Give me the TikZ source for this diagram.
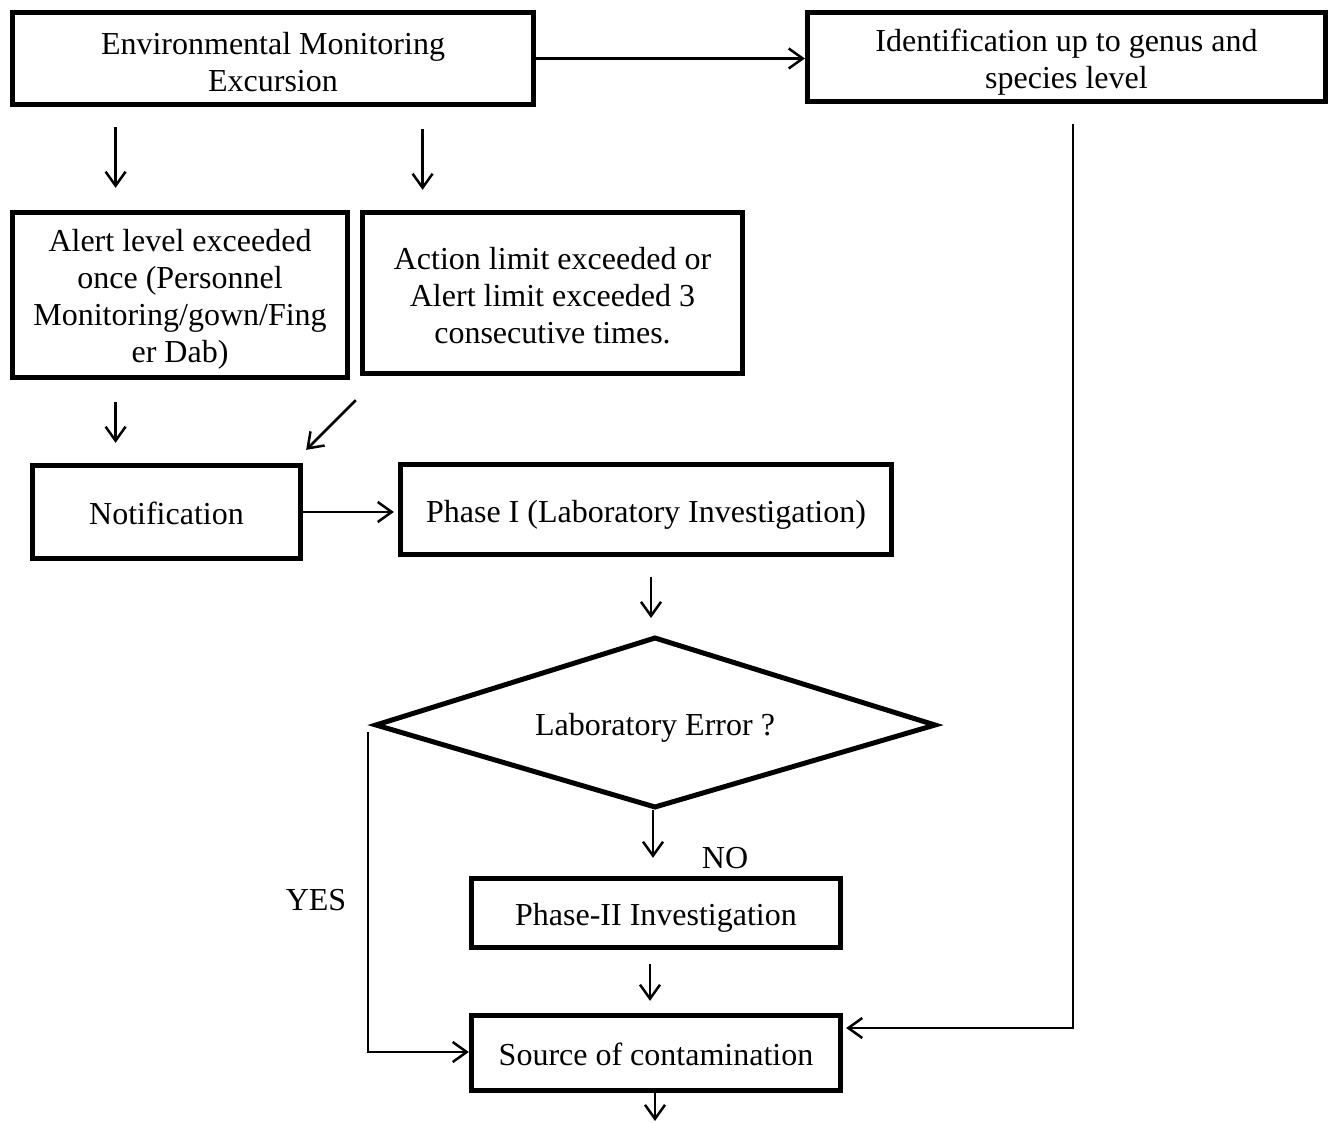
\documentclass[tikz,border=0pt]{standalone}
\usepackage{fontspec}
\setmainfont{Liberation Serif}
\usetikzlibrary{arrows.meta}
\begin{document}
\begin{tikzpicture}[x=1pt,y=-1pt,
  box/.style={draw, line width=4.8pt, inner sep=0pt},
  btext/.style={align=center, inner sep=0pt, font=\fontsize{32}{37}\selectfont, yshift=-#1},
  btext/.default=4pt,
  arr/.style={line width=2.5pt, -{Straight Barb[length=14pt,width=20pt]}},
  lbl/.style={font=\fontsize{32}{37}\selectfont, inner sep=0pt}]
\useasboundingbox (0,0) rectangle (1331,1123);
\node[box, minimum width=521.5pt, minimum height=92.5pt,
  label={[btext=3.5pt]center:Environmental Monitoring\\Excursion}] (eme) at (273,58.5) {};
\node[box, minimum width=518.5pt, minimum height=89.5pt,
  label={[btext=5pt]center:Identification up to genus and\\species level}] (ident) at (1066.5,57) {};
\node[box, minimum width=335.5pt, minimum height=165.5pt,
  label={[btext=4.5pt]center:Alert level exceeded\\once (Personnel\\Monitoring/gown/Fing\\er Dab)}] (alert) at (180,295) {};
\node[box, minimum width=380.5pt, minimum height=161.5pt,
  label={[btext=3pt]center:Action limit exceeded or\\Alert limit exceeded 3\\consecutive times.}] (action) at (552.5,293) {};
\node[box, minimum width=268.5pt, minimum height=93.5pt,
  label={[btext=1pt]center:Notification}] (notif) at (166.5,512) {};
\node[box, minimum width=491.5pt, minimum height=90.5pt,
  label={[btext=5pt]center:Phase I (Laboratory Investigation)}] (phase1) at (646,509.5) {};
% decision diamond
\coordinate (dt) at (655,638);
\coordinate (db) at (655,807);
\coordinate (dl) at (376,725);
\coordinate (dr) at (935,725);
\draw[line width=5pt] (dl) -- (dt) -- (dr) -- (db) -- cycle;
\node[lbl] (dec) at (655,728) {Laboratory Error ?};
\node[box, minimum width=369.5pt, minimum height=69.5pt,
  label={[btext=5pt]center:Phase-II Investigation}] (phase2) at (656,913) {};
\node[box, minimum width=369.5pt, minimum height=75.5pt,
  label={[btext=1.5pt]center:Source of contamination}] (source) at (656,1053) {};
\node[lbl] (no) at (725,858) {NO};
\node[lbl] (yes) at (316,900) {YES};
\coordinate (out) at (655,1121);

\draw[arr] (eme.east) -- (eme.east -| ident.west);
\draw[arr, shorten <=20pt, shorten >=22pt] ([xshift=105.75pt]eme.south west) -- ([xshift=105.75pt]alert.north west);
\draw[arr, shorten <=22pt, shorten >=20pt] ([xshift=412.75pt]eme.south west) -- ([xshift=62.75pt]action.north west);
\draw[arr, shorten <=22pt, shorten >=20pt] ([xshift=105.75pt]alert.south west) -- ([xshift=85.75pt]notif.north west);
\draw[arr] ([shift={(-4pt,-24pt)}]action.south west) -- ([shift={(3pt,13pt)}]notif.north east);
\draw[arr, shorten >=4pt] (notif.east) -- (notif.east -| phase1.west);
\draw[arr, shorten <=20pt, shorten >=20pt] ([xshift=5pt]phase1.south) -- ([xshift=5pt]phase1.south |- dt);
\draw[arr, shorten <=3pt, shorten >=18pt] ([xshift=-2pt]db) -- ([xshift=-2pt]db |- phase2.north);
\draw[arr, shorten <=14pt, shorten >=12pt] ([xshift=-6pt]phase2.south) -- ([xshift=-6pt]source.north);
\draw[arr] ([shift={(-8pt,-7pt)}]dl) |- ([yshift=1pt]source.west);
\draw[arr, shorten >=3pt] ([shift={(6.5pt,-20pt)}]ident.south) |- ([yshift=25pt]source.east);
\draw[arr] (source.south -| out) -- (out);
\end{tikzpicture}
\end{document}
